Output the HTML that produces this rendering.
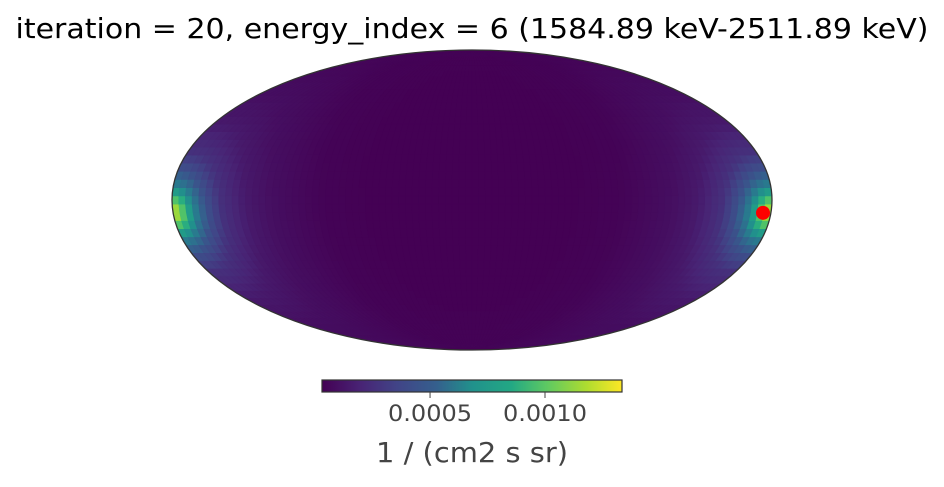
<!DOCTYPE html>
<html><head><meta charset="utf-8"><style>
body{margin:0;background:#fff;width:944px;height:482px;overflow:hidden;font-family:"Liberation Sans","DejaVu Sans",sans-serif}
</style></head><body>
<svg id="chart" width="944" height="482" xmlns="http://www.w3.org/2000/svg">
<text x="472" y="38" text-anchor="middle" font-size="28" textLength="913" lengthAdjust="spacingAndGlyphs" font-family="DejaVu Sans, Liberation Sans, sans-serif" fill="#000">iteration = 20, energy_index = 6 (1584.89 keV-2511.89 keV)</text>
<defs><clipPath id="ell"><ellipse cx="472" cy="200" rx="300" ry="150"/></clipPath>
<linearGradient id="vir" x1="0" x2="1" y1="0" y2="0">
<stop offset="0" stop-color="#440154"/><stop offset="0.13" stop-color="#482475"/><stop offset="0.25" stop-color="#414487"/><stop offset="0.38" stop-color="#355f8d"/><stop offset="0.5" stop-color="#21918c"/><stop offset="0.63" stop-color="#22a884"/><stop offset="0.75" stop-color="#5ec962"/><stop offset="0.88" stop-color="#addc30"/><stop offset="1" stop-color="#fde725"/></linearGradient></defs>
<g id="map" clip-path="url(#ell)"><ellipse cx="472" cy="200" rx="300" ry="150" fill="#440154"/></g>
<ellipse cx="472" cy="200" rx="300" ry="150" fill="none" stroke="#333" stroke-width="1.3"/>
<circle id="src" r="7" fill="#ff0000"/>
<rect x="322" y="380" width="300" height="12" fill="url(#vir)" stroke="#333" stroke-width="1.2"/>
<g id="cbticks"></g>
<text x="472" y="462" text-anchor="middle" font-size="28" textLength="192" lengthAdjust="spacingAndGlyphs" font-family="DejaVu Sans, Liberation Sans, sans-serif" fill="#444">1 / (cm2 s sr)</text>
</svg>
<script>
// data
const profileDist = [0, 5, 10, 15, 20, 30, 45, 60, 90, 120, 180];
const profileVal = [0.00125, 0.00105, 0.00075, 0.00052, 0.00036, 0.00021, 0.00012, 0.00008, 0.00004, 0.00003, 0.00003];
const hotspotLon = [180];
const hotspotLat = [-6];
const cbMin = [0.00003];
const cbMax = [0.001335];
const cbTickVals = [0.0005, 0.0010];
const cbTickLabels = ["0.0005", "0.0010"];

const CX=472, CY=200, RX=300, RY=150, CBX=322, CBW=300;
const vir=[[68,1,84],[72,36,117],[65,68,135],[53,95,141],[42,120,142],[33,145,140],[34,168,132],[68,190,112],[122,209,81],[189,223,38],[253,231,37]];
function color(v){let t=(v-cbMin[0])/(cbMax[0]-cbMin[0]);t=Math.max(0,Math.min(1,t))*(vir.length-1);const i=Math.min(vir.length-2,Math.floor(t)),f=t-i;const c=vir[i].map((a,k)=>Math.round(a+(vir[i+1][k]-a)*f));return `rgb(${c})`;}
function theta(lat){const p=Math.PI*Math.sin(lat*Math.PI/180);let th=lat*Math.PI/180;for(let i=0;i<30;i++){const d=(2*th+Math.sin(2*th)-p)/(2+2*Math.cos(2*th));th-=d;if(Math.abs(d)<1e-9)break;}return th;}
function proj(lon,lat){const th=theta(lat);return [CX+RX*(lon/180)*Math.cos(th),CY-RY*Math.sin(th)];}
function profile(d){for(let i=1;i<profileDist.length;i++){if(d<=profileDist[i]){const f=(d-profileDist[i-1])/(profileDist[i]-profileDist[i-1]);return profileVal[i-1]+(profileVal[i]-profileVal[i-1])*f;}}return profileVal[profileVal.length-1];}
function angDist(l1,b1,l2,b2){const r=Math.PI/180;const c=Math.sin(b1*r)*Math.sin(b2*r)+Math.cos(b1*r)*Math.cos(b2*r)*Math.cos((l1-l2)*r);return Math.acos(Math.max(-1,Math.min(1,c)))/r;}
const g=document.getElementById('map');
const NS='http://www.w3.org/2000/svg';
const step=4;
for(let lat=-90;lat<90;lat+=step){for(let lon=-180;lon<180;lon+=step){
 const v=profile(angDist(lon+step/2,lat+step/2,hotspotLon[0],hotspotLat[0]));
 const pts=[proj(lon,lat),proj(lon+step,lat),proj(lon+step,lat+step),proj(lon,lat+step)];
 const p=document.createElementNS(NS,'polygon');
 p.setAttribute('points',pts.map(q=>q.join(',')).join(' '));
 p.setAttribute('fill',color(v));p.setAttribute('stroke',color(v));p.setAttribute('stroke-width','0.6');
 
 
 g.appendChild(p);
}}
const s=proj(177,hotspotLat[0]);
const src=document.getElementById('src');src.setAttribute('cx',s[0]-3);src.setAttribute('cy',s[1]+0.5);
const tg=document.getElementById('cbticks');
cbTickVals.forEach((v,i)=>{const x=CBX+CBW*(v-cbMin[0])/(cbMax[0]-cbMin[0]);
 const l=document.createElementNS(NS,'line');l.setAttribute('x1',x);l.setAttribute('x2',x);l.setAttribute('y1',392);l.setAttribute('y2',398);l.setAttribute('stroke','#444');
 
 
 tg.appendChild(l);
 const t=document.createElementNS(NS,'text');t.setAttribute('x',x);t.setAttribute('y',421);t.setAttribute('text-anchor','middle');t.setAttribute('font-size','22');t.setAttribute('textLength','84');t.setAttribute('lengthAdjust','spacingAndGlyphs');t.setAttribute('fill','#444');t.setAttribute('font-family','DejaVu Sans, Liberation Sans, sans-serif');t.textContent=cbTickLabels[i];
 
 
 tg.appendChild(t);});
</script>
</body></html>
